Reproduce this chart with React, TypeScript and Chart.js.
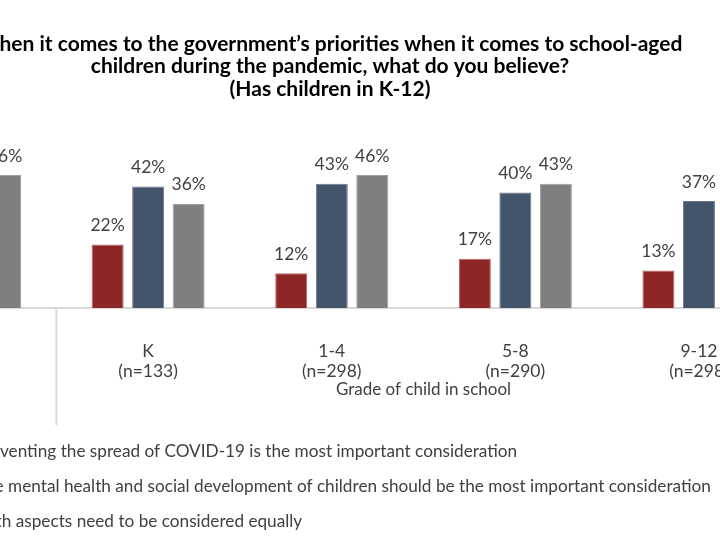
import React, { useEffect, useRef } from "react";
import { Chart, registerables } from "chart.js";

Chart.register(...registerables);

const categories: string[][] = [
  ["Total", "(n=1019)"],
  ["K", "(n=133)"],
  ["1-4", "(n=298)"],
  ["5-8", "(n=290)"],
  ["9-12", "(n=298)"],
];
const preventing = [14, 22, 12, 17, 13];
const mentalHealth = [40, 42, 43, 40, 37];
const bothEqual = [46, 36, 46, 43, 50];

const seriesNames = [
  "Preventing the spread of COVID-19 is the most important consideration",
  "The mental health and social development of children should be the most important consideration",
  "Both aspects need to be considered equally",
];
const seriesColors = ["#8E2626", "#44546A", "#7F7F7F"];
const seriesBorders = ["#B86060", "#6A7890", "#A0A0A0"];

const titleLines = [
  "When it comes to the government\u2019s priorities when it comes to school-aged",
  "children during the pandemic, what do you believe?",
  "(Has children in K-12)",
];
const axisTitle = "Grade of child in school";

const FONT = "Lato";
const OFFSET_X = 150;

const decorPlugin = {
  id: "decor",
  afterDraw(chart: any) {
    const ctx = chart.ctx as CanvasRenderingContext2D;
    const xs = chart.scales.x;
    const area = chart.chartArea;
    ctx.save();
    // title
    ctx.fillStyle = "#000000";
    ctx.font = `bold 21px ${FONT}`;
    ctx.textAlign = "center";
    ctx.textBaseline = "middle";
    const tY = [44, 66, 89];
    titleLines.forEach((t, i) => ctx.fillText(t, chart.width / 2 - 2, tY[i]));

    // data labels
    ctx.fillStyle = "#404040";
    ctx.font = `17.5px ${FONT}`;
    ctx.textBaseline = "alphabetic";
    chart.data.datasets.forEach((ds: any, di: number) => {
      const meta = chart.getDatasetMeta(di);
      meta.data.forEach((bar: any, j: number) => {
        ctx.fillText(ds.data[j] + "%", bar.x, bar.y - 13.5);
      });
    });

    // separator between first group and grade groups
    const sepX = (xs.getPixelForTick(0) + xs.getPixelForTick(1)) / 2;
    ctx.strokeStyle = "#D9D9D9";
    ctx.lineWidth = 2;
    ctx.beginPath();
    ctx.moveTo(sepX, area.bottom);
    ctx.lineTo(sepX, 425);
    ctx.stroke();

    // group axis title
    const gx = (xs.getPixelForTick(1) + xs.getPixelForTick(4)) / 2;
    ctx.fillStyle = "#404040";
    ctx.textBaseline = "middle";
    ctx.font = `17px ${FONT}`;
    ctx.fillText(axisTitle, gx, 390);

    // legend
    const rowY = [451, 486, 521];
    const textX = OFFSET_X - 25;
    ctx.textAlign = "left";
    ctx.font = `17.2px ${FONT}`;
    seriesNames.forEach((name, i) => {
      ctx.fillStyle = seriesColors[i];
      ctx.fillRect(textX - 17, rowY[i] - 5, 10, 10);
      ctx.fillStyle = "#404040";
      ctx.fillText(name, textX, rowY[i]);
    });
    ctx.restore();
  },
};

export default function App() {
  const ref = useRef<HTMLCanvasElement | null>(null);
  useEffect(() => {
    if (!ref.current) return;
    const chart = new Chart(ref.current, {
      type: "bar",
      data: {
        labels: categories,
        datasets: [preventing, mentalHealth, bothEqual].map((d, i) => ({
          label: seriesNames[i],
          data: d,
          backgroundColor: seriesColors[i],
          borderColor: seriesBorders[i],
          borderWidth: 1,
          categoryPercentage: 0.662,
          barPercentage: 0.79,
        })),
      },
      options: {
        responsive: false,
        animation: false,
        layout: { padding: { left: 22.75, right: 23.25, top: 163.5, bottom: 159 } },
        plugins: {
          legend: { display: false },
          title: { display: false },
          tooltip: { enabled: false },
        },
        scales: {
          x: {
            grid: { display: false, drawTicks: false },
            border: { display: true, color: "#D9D9D9", width: 2 },
            ticks: {
              padding: 33,
              color: "#404040",
              font: { family: FONT, size: 17.5, lineHeight: 1.15 },
              maxRotation: 0,
              autoSkip: false,
            },
            afterFit: (scale: any) => {
              scale.height = 73;
            },
          },
          y: { display: false, min: 0, max: 50 },
        },
      },
      plugins: [decorPlugin],
    });
    return () => chart.destroy();
  }, []);
  return (
    <div
      style={{
        position: "fixed",
        left: 0,
        top: 0,
        width: 720,
        height: 540,
        overflow: "hidden",
        background: "#ffffff",
      }}
    >
      <canvas
        ref={ref}
        width={964}
        height={540}
        style={{ position: "absolute", left: -OFFSET_X, top: 0, width: 964, height: 540 }}
      />
    </div>
  );
}
